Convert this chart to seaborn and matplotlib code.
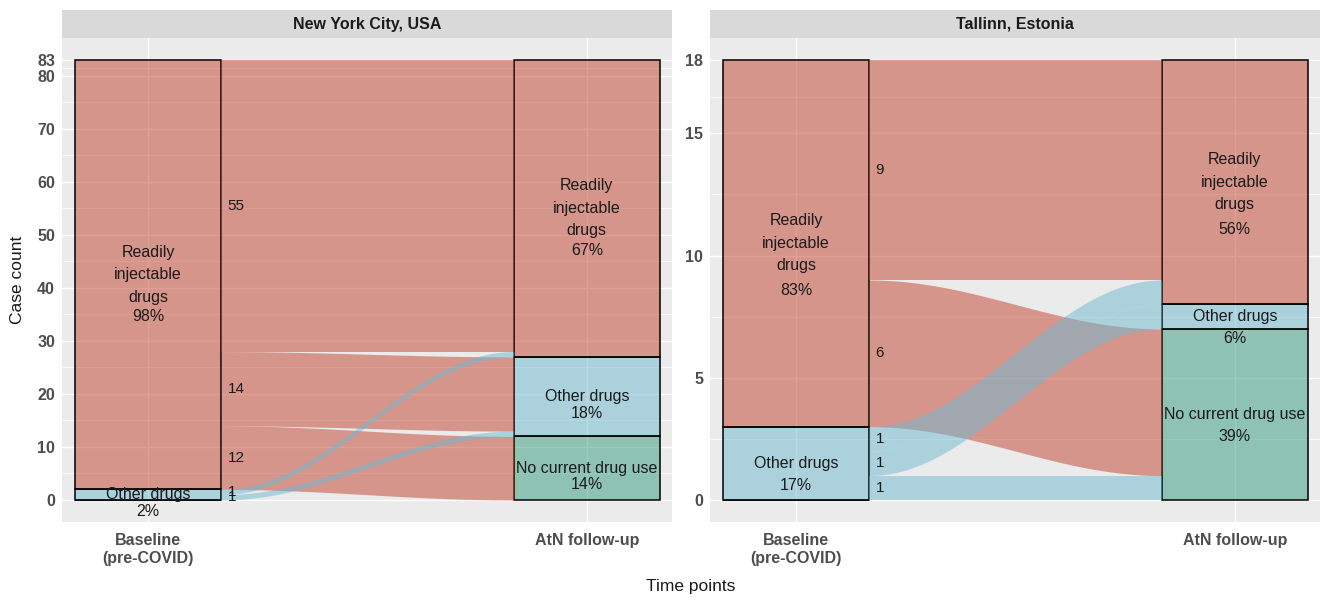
import numpy as np
import pandas as pd
import seaborn as sns
import matplotlib.pyplot as plt
from matplotlib.patches import Rectangle

# strata, bottom -> top
categories = ["No current drug use", "Other drugs", "Readily injectable drugs"]
cat_labels = ["No current drug use", "Other drugs", "Readily\ninjectable\ndrugs"]
time_labels = ["Baseline\n(pre-COVID)", "AtN follow-up"]
sites = ["New York City, USA", "Tallinn, Estonia"]

# flows baseline -> follow-up (counts)
nyc_from = ["Readily injectable drugs", "Readily injectable drugs", "Readily injectable drugs",
            "Other drugs", "Other drugs"]
nyc_to = ["Readily injectable drugs", "Other drugs", "No current drug use",
          "Readily injectable drugs", "Other drugs"]
nyc_n = [55, 14, 12, 1, 1]

tal_from = ["Readily injectable drugs", "Readily injectable drugs",
            "Other drugs", "Other drugs", "Other drugs"]
tal_to = ["Readily injectable drugs", "No current drug use",
          "Readily injectable drugs", "Other drugs", "No current drug use"]
tal_n = [9, 6, 1, 1, 1]

nyc_yticks = [0, 10, 20, 30, 40, 50, 60, 70, 80, 83]
tal_yticks = [0, 5, 10, 15, 18]

palette = {"Readily injectable drugs": "#C1412D",
           "Other drugs": "#6DB9D1",
           "No current drug use": "#339D7D"}

sns.set_theme(style="darkgrid", rc={"axes.facecolor": "#EBEBEB",
                                    "grid.color": "white"})
plt.rcParams["font.family"] = ["Liberation Sans", "DejaVu Sans"]

fig = plt.figure(figsize=(13.25, 6), dpi=100)
ax1 = fig.add_axes([62 / 1325, 1 - 522 / 600, 610 / 1325, 484 / 600])
ax2 = fig.add_axes([710 / 1325, 1 - 522 / 600, 610 / 1325, 484 / 600])

hw = 1 / 6  # half stratum width


def draw_site(ax, title, f_from, f_to, f_n, yticks, pct_gap):
    flows = pd.DataFrame({"src": f_from, "dst": f_to, "n": f_n})
    rank = {c: i for i, c in enumerate(categories)}
    flows["rs"] = flows["src"].map(rank)
    flows["rd"] = flows["dst"].map(rank)
    total = flows["n"].sum()

    # strata tables
    base = flows.groupby("src")["n"].sum().reindex(categories, fill_value=0)
    foll = flows.groupby("dst")["n"].sum().reindex(categories, fill_value=0)
    strata = pd.DataFrame({
        "time": [1] * 3 + [2] * 3,
        "category": categories * 2,
        "n": list(base.values) + list(foll.values),
    })
    sns.histplot(data=strata, x="time", weights="n", hue="category",
                 hue_order=categories[::-1], palette=palette, multiple="stack",
                 discrete=True, shrink=1 / 3, alpha=0.5, edgecolor="black",
                 linewidth=1.1, legend=False, ax=ax)

    # flow positions on each axis
    left = flows.sort_values(["rs", "rd"])
    y0 = dict(zip(left.index, left["n"].cumsum() - left["n"]))
    right = flows.sort_values(["rd", "rs"])
    y1 = dict(zip(right.index, right["n"].cumsum() - right["n"]))

    t = np.linspace(0, 1, 200)
    s = 0.5 - 0.5 * np.cos(np.pi * t)
    xs = (1 + hw) + t * (1 - 2 * hw)
    # red flows first, blue on top
    for i in flows.sort_values("rs", ascending=False).index:
        n = flows.loc[i, "n"]
        lo = y0[i] + (y1[i] - y0[i]) * s
        ax.fill_between(xs, lo, lo + n, color=palette[flows.loc[i, "src"]],
                        alpha=0.5, linewidth=0)
        ax.text(1 + hw + 0.015, y0[i] + n / 2, str(n), ha="left",
                va="center", fontsize=11, color="#1A1A1A")

    # stratum labels
    for tx, counts in [(1, base), (2, foll)]:
        bottom = 0
        for c, lab in zip(categories, cat_labels):
            n = counts[c]
            if n > 0:
                yc = bottom + n / 2
                ax.text(tx, yc, lab, ha="center", va="center", fontsize=11.5,
                        color="#1A1A1A", linespacing=1.63)
                off = -pct_gap[0] if "\n" in lab else -pct_gap[1]
                ax.annotate(f"{round(100 * n / total)}%", (tx, yc),
                            xytext=(0, off), textcoords="offset points",
                            ha="center", va="center", fontsize=11.5,
                            color="#1A1A1A")
            bottom += n

    ax.set_xlim(1 - 0.196, 2 + 0.194)
    ax.set_ylim(-0.05 * total, total * 1.05)
    ax.set_xticks([1, 2])
    ax.set_xticklabels(time_labels, fontweight="bold", color="#4D4D4D",
                       fontsize=11.5)
    ax.set_yticks(yticks)
    ax.set_yticklabels([str(v) for v in yticks], fontweight="bold",
                       color="#4D4D4D", fontsize=11.5)
    ax.set_yticks([(a + b) / 2 for a, b in zip(yticks[:-1], yticks[1:])],
                  minor=True)
    ax.grid(which="major", color="white", linewidth=1.0)
    ax.grid(which="minor", color="white", linewidth=0.5)
    ax.tick_params(which="major", length=3, width=0.8, color="#333333",
                   pad=2)
    ax.tick_params(axis="x", which="major", pad=5)
    ax.tick_params(which="minor", length=0)
    ax.set_xlabel("")
    ax.set_ylabel("")
    for sp in ax.spines.values():
        sp.set_visible(False)

    # facet strip
    h = 28 / 484
    ax.add_patch(Rectangle((0, 1), 1, h, transform=ax.transAxes,
                           facecolor="#D9D9D9", edgecolor="none",
                           clip_on=False))
    ax.text(0.5, 1 + h / 2, title, transform=ax.transAxes, ha="center",
            va="center", fontsize=11.5, fontweight="bold", color="#1A1A1A")


draw_site(ax1, sites[0], nyc_from, nyc_to, nyc_n, nyc_yticks, (30, 12))
draw_site(ax2, sites[1], tal_from, tal_to, tal_n, tal_yticks, (34, 16))

fig.text(18 / 1325, 1 - 280 / 600, "Case count", rotation=90, ha="center",
         va="center", fontsize=12.5, color="#1A1A1A")
fig.text(691 / 1325, 1 - 587 / 600, "Time points", ha="center", va="center",
         fontsize=12.5, color="#1A1A1A")

fig.savefig("out.png", dpi=100, facecolor="white")
